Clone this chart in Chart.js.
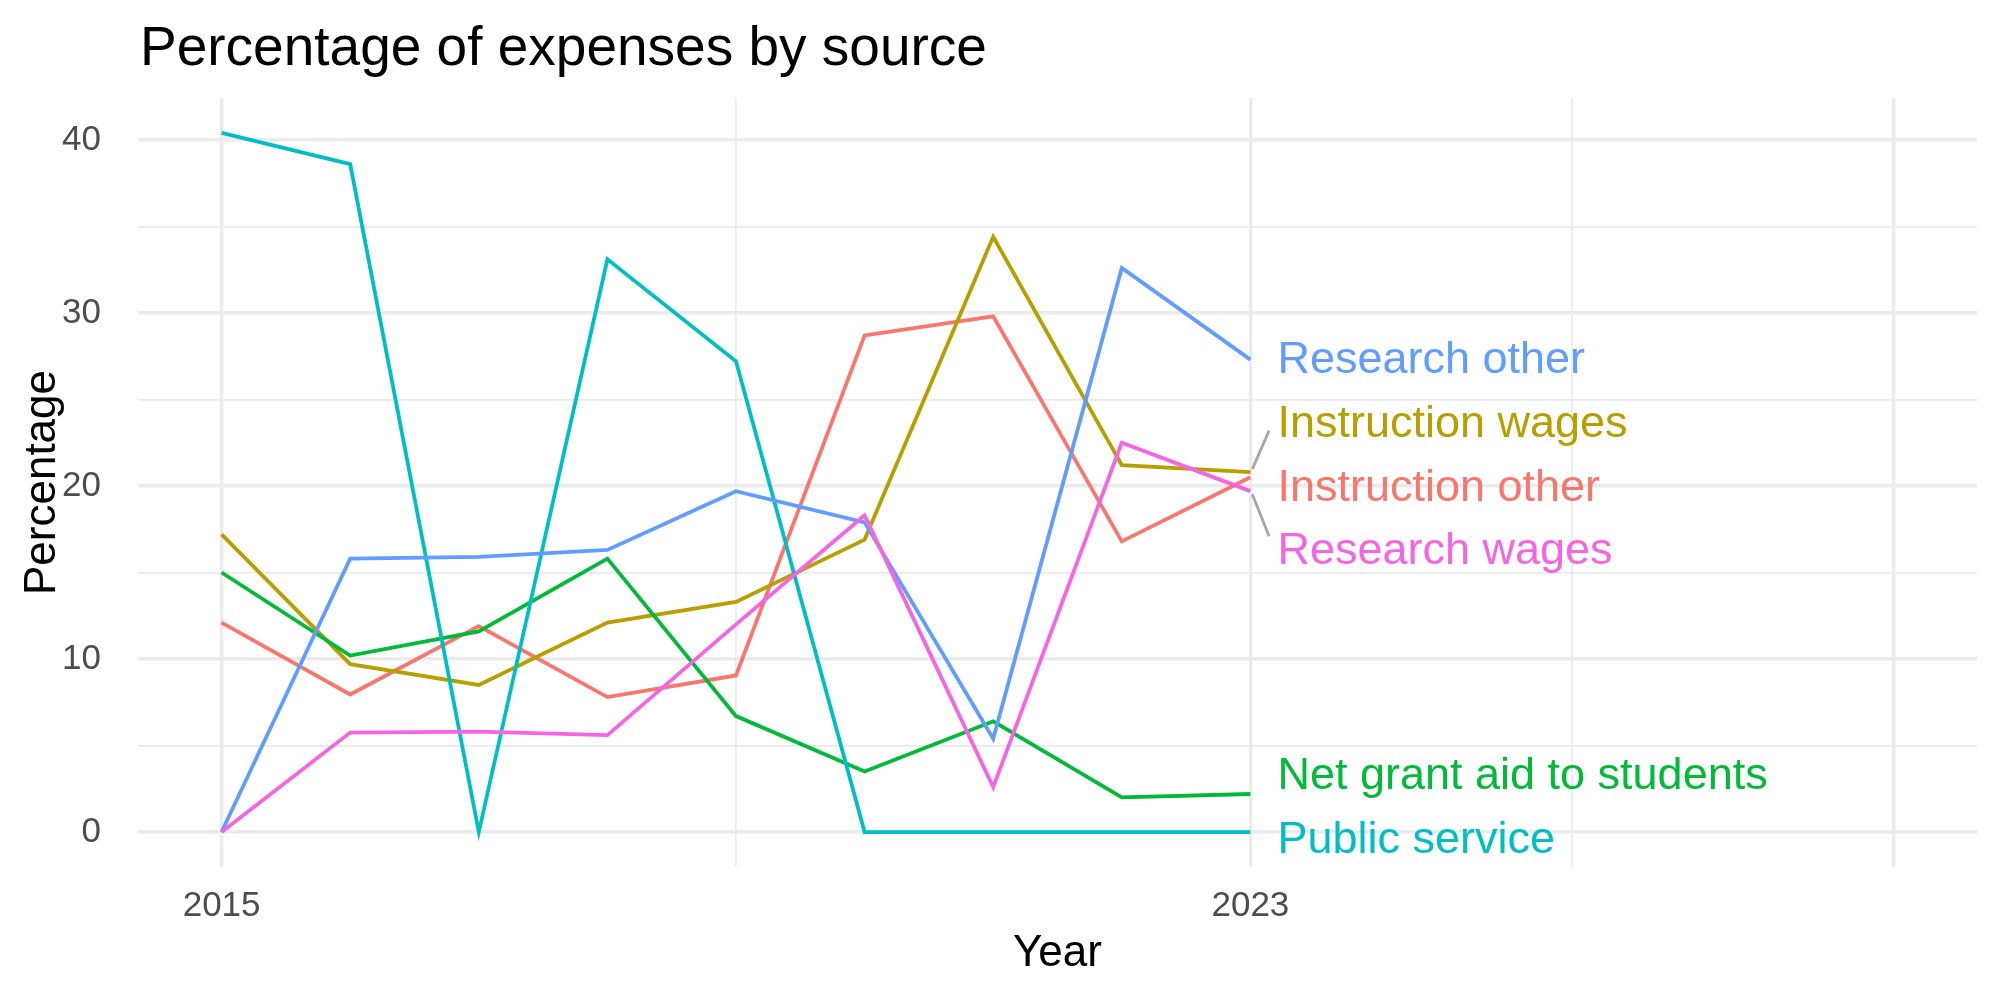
<!DOCTYPE html>
<html>
<head>
<meta charset="utf-8">
<script src="https://cdn.jsdelivr.net/npm/chart.js@4.4.1/dist/chart.umd.min.js"></script>
<style>
  html, body { margin: 0; padding: 0; background: #fff; }
  canvas { display: block; }
</style>
</head>
<body>
<canvas id="chart" width="2000" height="1000"></canvas>
<script>
// data
const years = [2015, 2016, 2017, 2018, 2019, 2020, 2021, 2022, 2023];
const seriesNames = ["Instruction other", "Instruction wages", "Net grant aid to students", "Public service", "Research other", "Research wages"];
const instructionOther = [12.1, 7.95, 11.9, 7.8, 9.05, 28.7, 29.8, 16.8, 20.5];
const instructionWages = [17.2, 9.7, 8.5, 12.1, 13.3, 16.9, 34.4, 21.2, 20.8];
const netGrantAid = [15.0, 10.2, 11.6, 15.8, 6.7, 3.5, 6.4, 2.0, 2.2];
const publicService = [40.4, 38.6, 0, 33.1, 27.2, 0, 0, 0, 0];
const researchOther = [0, 15.8, 15.9, 16.3, 19.7, 17.9, 5.4, 32.6, 27.3];
const researchWages = [0, 5.75, 5.8, 5.6, 12.0, 18.3, 2.6, 22.5, 19.7];
const colors = ["#F8766D", "#B79F00", "#00BA38", "#00BFC4", "#619CFF", "#F564E3"];

const xTicks = [2015, 2019, 2023, 2025.5, 2028];
const xTickLabels = ["2015", "", "2023", "", ""];
const xMajor = [2015, 2023, 2028];
const yTicks = [0, 5, 10, 15, 20, 25, 30, 35, 40];
const yTickLabels = ["0", "", "10", "", "20", "", "30", "", "40"];

const allValues = [instructionOther, instructionWages, netGrantAid, publicService, researchOther, researchWages];

const FONT = "'Liberation Sans', Arial, Helvetica, sans-serif";

const datasets = seriesNames.map((name, i) => ({
  label: name,
  data: years.map((yr, j) => ({ x: yr, y: allValues[i][j] })),
  borderColor: colors[i],
  backgroundColor: colors[i],
  borderWidth: 3.8,
  pointRadius: 0,
  tension: 0,
  order: seriesNames.length - 1 - i
}));

// where the direct labels sit (data units, like ggrepel put them)
const labelPos = {
  "Research other": 27.45,
  "Instruction wages": 23.75,
  "Instruction other": 20.05,
  "Research wages": 16.4,
  "Net grant aid to students": 3.4,
  "Public service": -0.3
};
const connectors = { "Instruction wages": 23.2, "Research wages": 17.1 };

const textPlugin = {
  id: "directLabels",
  afterDatasetsDraw(chart) {
    const ctx = chart.ctx;
    const xs = chart.scales.x, ys = chart.scales.y;
    const lastX = years[years.length - 1];
    ctx.save();
    // connectors
    ctx.strokeStyle = "#A6A6A6";
    ctx.lineWidth = 2.8;
    Object.keys(connectors).forEach(name => {
      const i = seriesNames.indexOf(name);
      const endY = allValues[i][years.length - 1];
      ctx.beginPath();
      ctx.moveTo(xs.getPixelForValue(lastX + 0.015), ys.getPixelForValue(endY) + (connectors[name] > endY ? -3 : 3));
      ctx.lineTo(xs.getPixelForValue(lastX + 0.145), ys.getPixelForValue(connectors[name]));
      ctx.stroke();
    });
    const size = 45;
    ctx.font = size + "px " + FONT;
    ctx.textAlign = "left";
    ctx.textBaseline = "alphabetic";
    seriesNames.forEach((name, i) => {
      ctx.fillStyle = colors[i];
      const y = ys.getPixelForValue(labelPos[name]) + 0.358 * size;
      ctx.fillText(name, xs.getPixelForValue(lastX + 0.21), y);
    });
    // chart title
    ctx.fillStyle = "#000";
    ctx.font = "55px " + FONT;
    ctx.fillText("Percentage of expenses by source", 140, 65);
    ctx.restore();
  }
};

new Chart(document.getElementById("chart").getContext("2d"), {
  type: "line",
  data: { datasets },
  options: {
    responsive: false,
    animation: false,
    layout: { padding: { top: 98, right: 23, bottom: 0, left: 0 } },
    plugins: { legend: { display: false }, tooltip: { enabled: false }, title: { display: false } },
    scales: {
      x: {
        type: "linear",
        min: 2014.35,
        max: 2028.65,
        afterBuildTicks: s => { s.ticks = xTicks.map(v => ({ value: v })); },
        afterFit: s => { s.height = 133; },
        ticks: {
          autoSkip: false,
          maxRotation: 0,
          padding: 18,
          color: "#4D4D4D",
          font: { family: FONT, size: 35 },
          callback: v => xTickLabels[xTicks.indexOf(v)] ?? ""
        },
        grid: {
          color: "#EBEBEB",
          drawTicks: false,
          lineWidth: c => (xMajor.includes(c.tick.value) ? 3.4 : 1.7)
        },
        border: { display: false },
        title: {
          display: true,
          text: "Year",
          color: "#000",
          font: { family: FONT, size: 44 },
          padding: { top: 0, bottom: 20 }
        }
      },
      y: {
        min: -2.02,
        max: 42.42,
        afterBuildTicks: s => { s.ticks = yTicks.map(v => ({ value: v })); },
        afterFit: s => { s.width = 138; },
        ticks: {
          padding: 37,
          color: "#4D4D4D",
          font: { family: FONT, size: 35 },
          callback: v => yTickLabels[yTicks.indexOf(v)] ?? ""
        },
        grid: {
          color: "#EBEBEB",
          drawTicks: false,
          lineWidth: c => (c.tick.value % 10 === 0 ? 3.4 : 1.7)
        },
        border: { display: false },
        title: {
          display: true,
          text: "Percentage",
          color: "#000",
          font: { family: FONT, size: 44 },
          padding: { top: 16, bottom: 0 }
        }
      }
    }
  },
  plugins: [textPlugin]
});
</script>
</body>
</html>
